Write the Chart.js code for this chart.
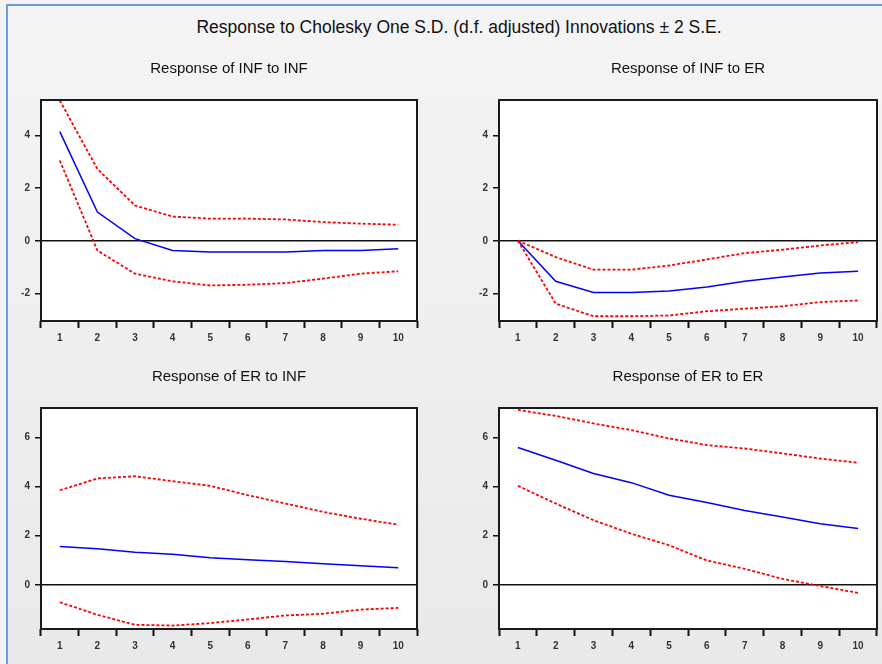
<!DOCTYPE html>
<html>
<head>
<meta charset="utf-8">
<script src="https://cdn.jsdelivr.net/npm/chart.js@4.4.1/dist/chart.umd.min.js"></script>
<style>
  html, body { margin: 0; padding: 0; width: 882px; height: 664px; overflow: hidden; background: #f3f3f3; }
  #frame { position: absolute; left: 6px; top: 4px; width: 900px; height: 700px;
           border-top: 2px solid #6b9bd8; border-left: 2px solid #6b9bd8;
           background: linear-gradient(#f4f4f4, #e8e8e8); }
  #title { position: absolute; left: 0; top: 17px; width: 918px; text-align: center;
           font: 17.5px "Liberation Sans", Arial, sans-serif; line-height: 20px; color: #111; }
  .panel { position: absolute; width: 416px; height: 300px; }
  .left { left: 8px; }
  .right { left: 466px; }
</style>
</head>
<body>
<div id="frame"></div>
<div id="title">Response to Cholesky One S.D. (d.f. adjusted) Innovations ± 2 S.E.</div>
<div class="panel left" style="top:56px"><canvas id="c1"></canvas></div>
<div class="panel right" style="top:56px"><canvas id="c2"></canvas></div>
<div class="panel left" style="top:364px"><canvas id="c3"></canvas></div>
<div class="panel right" style="top:364px"><canvas id="c4"></canvas></div>
<script>
// ---------------- data ----------------
const periods = ["1", "2", "3", "4", "5", "6", "7", "8", "9", "10"];

const infInfResp  = [4.15, 1.09, 0.08, -0.37, -0.43, -0.43, -0.43, -0.37, -0.37, -0.30];
const infInfUpper = [5.33, 2.73, 1.34, 0.92, 0.84, 0.84, 0.81, 0.71, 0.65, 0.61];
const infInfLower = [3.05, -0.37, -1.25, -1.54, -1.70, -1.67, -1.61, -1.44, -1.25, -1.16];

const infErResp  = [0, -1.54, -1.97, -1.97, -1.91, -1.76, -1.54, -1.38, -1.23, -1.16];
const infErUpper = [0, -0.62, -1.10, -1.10, -0.94, -0.71, -0.47, -0.34, -0.18, -0.05];
const infErLower = [0, -2.39, -2.87, -2.87, -2.84, -2.68, -2.58, -2.49, -2.33, -2.27];

const erInfResp  = [1.56, 1.47, 1.33, 1.24, 1.10, 1.02, 0.95, 0.86, 0.78, 0.69];
const erInfUpper = [3.85, 4.33, 4.42, 4.22, 4.03, 3.65, 3.31, 2.97, 2.69, 2.45];
const erInfLower = [-0.71, -1.22, -1.63, -1.66, -1.56, -1.41, -1.25, -1.18, -1.01, -0.94];

const erErResp  = [5.59, 5.07, 4.53, 4.16, 3.65, 3.35, 3.03, 2.76, 2.49, 2.29];
const erErUpper = [7.12, 6.88, 6.57, 6.30, 5.96, 5.69, 5.55, 5.35, 5.14, 4.97];
const erErLower = [4.03, 3.31, 2.63, 2.08, 1.61, 0.99, 0.65, 0.24, -0.05, -0.33];

const infTicks = [-2, 0, 2, 4];
const erTicks = [0, 2, 4, 6];
const infRange = [-3.05, 5.35];
const erRange = [-1.8, 7.2];

// ---------------- drawing ----------------
const tickFont = { family: "Liberation Sans", size: 10, weight: "bold" };

// white plot area with a full black frame round it
const boxPlugin = {
  id: "box",
  beforeDraw(chart) {
    const a = chart.chartArea;
    chart.ctx.save();
    chart.ctx.fillStyle = "#ffffff";
    chart.ctx.fillRect(a.left, a.top, a.right - a.left, a.bottom - a.top);
    chart.ctx.restore();
  },
  afterDraw(chart) {
    const a = chart.chartArea;
    const ctx = chart.ctx;
    ctx.save();
    ctx.strokeStyle = "#1a1a1a";
    ctx.lineWidth = 2;
    ctx.strokeRect(a.left, a.top, a.right - a.left, a.bottom - a.top);
    ctx.restore();
  },
};

function makePanel(id, title, resp, upper, lower, range, ticks, padRight) {
  const band = (data) => ({
    data: data,
    borderColor: "rgb(255, 0, 0)",
    borderWidth: 1.8,
    borderDash: [3, 2],
    pointRadius: 0,
    tension: 0,
  });
  new Chart(document.getElementById(id), {
    type: "line",
    data: {
      labels: periods,
      datasets: [
        band(upper),
        band(lower),
        { data: resp, borderColor: "rgb(0, 0, 255)", borderWidth: 1.5, pointRadius: 0, tension: 0 },
      ],
    },
    options: {
      responsive: true,
      maintainAspectRatio: false,
      animation: false,
      layout: { padding: { top: 0, right: padRight, bottom: 0, left: 0 } },
      plugins: {
        legend: { display: false },
        tooltip: { enabled: false },
        title: {
          display: true,
          fullSize: false, // centre over the plot, not the canvas
          text: title,
          color: "#111",
          font: { family: "Liberation Sans", size: 15, weight: "normal", lineHeight: 1.2 },
          padding: { top: 3.5, bottom: 22.5 },
        },
      },
      scales: {
        x: {
          offset: true,
          border: { display: false },
          grid: { offset: true, drawOnChartArea: false, tickLength: 7, tickColor: "#111", tickWidth: 2 },
          ticks: { color: "#333", font: tickFont, padding: 4, maxRotation: 0 },
          afterFit(scale) { scale.height = 35; },
        },
        y: {
          min: range[0],
          max: range[1],
          border: { display: false },
          afterBuildTicks(scale) { scale.ticks = ticks.map((v) => ({ value: v })); },
          afterFit(scale) { scale.width = 33; },
          grid: {
            color: (c) => (c.tick && c.tick.value === 0 ? "#111" : "rgba(0,0,0,0)"),
            tickColor: "#111",
            lineWidth: 1.5,
            tickLength: 6,
          },
          ticks: { color: "#333", font: tickFont, padding: 5 },
        },
      },
    },
    plugins: [boxPlugin],
  });
}

makePanel("c1", "Response of INF to INF", infInfResp, infInfUpper, infInfLower, infRange, infTicks, 7);
makePanel("c2", "Response of INF to ER", infErResp, infErUpper, infErLower, infRange, infTicks, 5);
makePanel("c3", "Response of ER to INF", erInfResp, erInfUpper, erInfLower, erRange, erTicks, 7);
makePanel("c4", "Response of ER to ER", erErResp, erErUpper, erErLower, erRange, erTicks, 5);
</script>
</body>
</html>
